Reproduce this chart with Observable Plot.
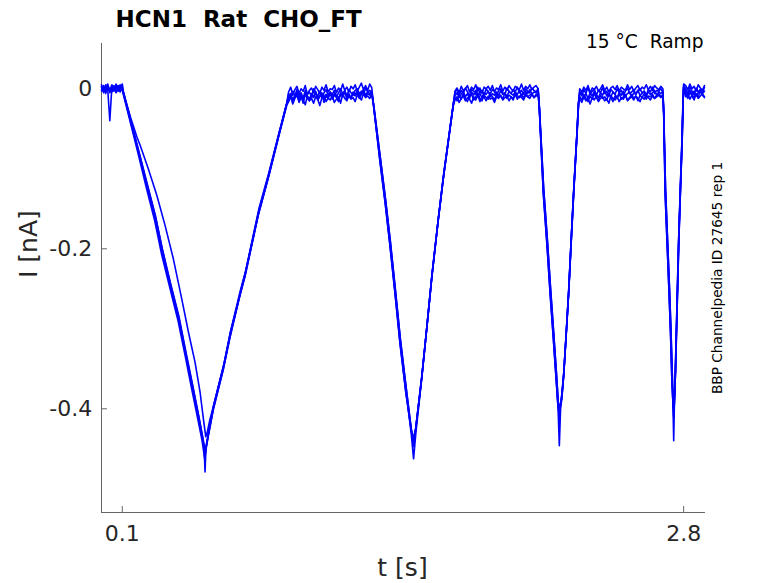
<!DOCTYPE html>
<html><head><meta charset="utf-8">
<script src="https://cdn.jsdelivr.net/npm/d3@7"></script>
<script src="https://cdn.jsdelivr.net/npm/@observablehq/plot@0.6"></script>
<style>
body{margin:0;background:#fff}
svg text{white-space:pre}
</style>
</head><body><div id="chart"></div>
<script>
// ---- axes ----
const xTicks = [0.1, 2.8];
const yTicks = [0, -0.2, -0.4];
const xDomain = [0, 2.905];
const yDomain = [-0.5296, 0.0566];

// ---- holding plateaus: first sample time (s), sampled every sampleStep ----
const sampleStep = 0.01;
const plateauStarts = [0, 0.90, 1.70, 2.30, 2.81];

// holding current samples (pA), one row per plateau
const sweep1Plateaus = [
  [2,-3,5,-1,-40,3,-2,6,0,-4,3],
  [-4,2,-8,-1,3,-6,0,-3,4,-7,-2,1,-5,3,-1,-6,2,-2,5,-4,0,-1,4,-5,1,-3,6,-2,2,-4,3,0,5,-3,2,7,-1,4,-2,6,1],
  [-3,1,-5,3,-2,0,4,-4,2,-1,5,-3,1,-6,2,0,3,-2,4,-4,1,-1,5,-3,2,-2,4,0,-3,3,1,-1,6,-2,3,0,5,-1,2,4,0],
  [0,-4,2,-2,4,-5,1,-1,3,-3,0,5,-2,2,-4,1,3,-1,4,-3,2,0,-2,5,-1,3,-3,1,4,-2,2,0,5,-1,3,-2,4,1,-1,3,0],
  [4,-1,6,0,3,-3,5,1,-2,4]
];
const sweep2Plateaus = [
  [-1,4,-4,2,-2,5,-3,1,4,-2,0],
  [-12,-6,-14,-8,-4,-11,-7,-15,-5,-9,-13,-6,-10,-3,-12,-8,-5,-14,-7,-10,-4,-11,-6,-9,-13,-5,-8,-2,-10,-6,-12,-4,-7,-3,-9,-5,-1,-8,-4,-6,-3],
  [-9,-5,-11,-7,-3,-10,-6,-12,-4,-8,-2,-9,-6,-11,-5,-7,-3,-10,-6,-8,-4,-9,-2,-7,-5,-10,-3,-6,-8,-4,-7,-2,-9,-5,-3,-6,-1,-7,-4,-5,-2],
  [-8,-4,-10,-6,-12,-5,-9,-3,-7,-11,-5,-8,-2,-9,-6,-10,-4,-7,-11,-5,-8,-3,-9,-6,-4,-10,-5,-7,-2,-8,-6,-3,-9,-4,-7,-5,-2,-8,-4,-6,-3],
  [-4,-8,-2,-7,-3,-9,-5,-1,-6,-3]
];
const sweep3Plateaus = [
  [3,-5,1,6,-3,0,4,-4,2,5,-1],
  [-16,-10,-19,-12,-8,-17,-11,-14,-20,-9,-15,-12,-18,-10,-13,-21,-11,-8,-16,-12,-14,-9,-17,-13,-10,-18,-7,-12,-15,-9,-13,-11,-16,-8,-10,-14,-6,-11,-9,-12,-7],
  [-14,-10,-17,-12,-9,-15,-11,-13,-18,-10,-14,-8,-16,-12,-10,-15,-9,-13,-11,-17,-10,-12,-8,-14,-11,-9,-15,-10,-12,-7,-13,-9,-11,-14,-8,-10,-12,-7,-11,-9,-8],
  [-13,-17,-10,-15,-12,-19,-11,-14,-9,-16,-12,-10,-15,-13,-18,-9,-12,-14,-10,-16,-11,-13,-8,-15,-12,-10,-14,-9,-12,-16,-10,-13,-8,-11,-14,-9,-12,-10,-8,-11,-9],
  [-10,-6,-13,-8,-11,-7,-12,-9,-6,-10]
];
const sweep4Plateaus = [
  [5,-2,0,4,-5,2,-1,3,-3,1,6],
  [-6,-11,-3,-9,-1,-8,-5,-12,-2,-7,-4,-10,0,-6,-9,-3,-11,-5,-1,-8,-4,-7,-2,-10,-5,0,-6,-3,-9,-1,-5,-8,-2,0,-6,-3,-7,1,-4,-2,-5],
  [-5,0,-8,-2,-6,1,-4,-9,-1,-3,-7,2,-5,-2,-8,0,-4,-6,-1,-3,-9,-2,0,-5,-7,1,-3,-6,-1,-4,2,-5,-2,-7,0,-3,-5,1,-2,-4,0],
  [-4,-9,-1,-6,2,-7,-3,0,-8,-2,-5,1,-6,-3,-9,-1,-4,-7,0,-5,-2,-8,-3,1,-6,-4,-1,-7,-2,0,-5,-3,-8,-1,-4,2,-6,-2,-3,0,-4],
  [0,-5,2,-3,-8,1,-4,-1,-6,2]
];
const sweep5Plateaus = [
  [-3,1,-6,3,-1,-4,2,-5,0,3,-2],
  [-13,-8,-16,-10,-6,-14,-9,-18,-7,-12,-15,-9,-11,-5,-14,-10,-7,-17,-9,-12,-6,-13,-8,-11,-16,-7,-10,-4,-13,-8,-11,-6,-9,-5,-12,-7,-3,-10,-6,-8,-5],
  [-11,-15,-8,-13,-6,-12,-16,-9,-7,-14,-10,-5,-12,-15,-8,-11,-13,-6,-10,-14,-7,-11,-9,-13,-5,-12,-8,-10,-14,-6,-9,-11,-7,-12,-5,-10,-8,-6,-11,-7,-6],
  [-10,-14,-7,-12,-16,-9,-13,-6,-11,-15,-8,-12,-10,-14,-7,-11,-16,-9,-12,-6,-13,-10,-8,-14,-11,-7,-12,-9,-15,-8,-11,-6,-13,-9,-10,-7,-12,-8,-6,-10,-7],
  [-7,-12,-4,-9,-14,-6,-10,-3,-8,-11]
];

// ramp responses [t (s), I (nA)], one list per ramp
const sweep1Ramps = [
  [[0.105,-0.006],[0.137,-0.038],[0.177,-0.079],[0.2175,-0.121],[0.2575,-0.162],[0.290,-0.204],[0.330,-0.246],[0.370,-0.288],[0.402,-0.329],[0.434,-0.371],[0.466,-0.412],[0.485,-0.438],[0.494,-0.452],[0.498,-0.479],[0.502,-0.452],[0.514,-0.433],[0.538,-0.400],[0.586,-0.350],[0.618,-0.310],[0.667,-0.256],[0.691,-0.233],[0.755,-0.156],[0.803,-0.110],[0.851,-0.060],[0.891,-0.018]],
  [[1.31,-0.025],[1.340,-0.088],[1.365,-0.140],[1.388,-0.193],[1.412,-0.252],[1.437,-0.317],[1.465,-0.378],[1.490,-0.432],[1.501,-0.4625],[1.512,-0.430],[1.541,-0.360],[1.565,-0.298],[1.589,-0.235],[1.620,-0.163],[1.645,-0.110],[1.672,-0.058],[1.692,-0.020]],
  [[2.105,-0.020],[2.126,-0.129],[2.143,-0.190],[2.159,-0.254],[2.173,-0.305],[2.187,-0.358],[2.196,-0.400],[2.202,-0.446],[2.208,-0.400],[2.215,-0.385],[2.223,-0.358],[2.235,-0.307],[2.247,-0.254],[2.259,-0.190],[2.271,-0.129],[2.286,-0.060],[2.295,-0.015]],
  [[2.704,-0.030],[2.712,-0.129],[2.722,-0.195],[2.731,-0.254],[2.738,-0.305],[2.744,-0.358],[2.749,-0.400],[2.752,-0.440],[2.755,-0.400],[2.760,-0.358],[2.768,-0.275],[2.776,-0.192],[2.784,-0.128],[2.792,-0.067],[2.797,-0.020],[2.800,0.006]]
];
const sweep2Ramps = [
  [[0.105,-0.004],[0.140,-0.040],[0.180,-0.080],[0.222,-0.122],[0.262,-0.163],[0.295,-0.203],[0.334,-0.247],[0.373,-0.287],[0.405,-0.330],[0.437,-0.370],[0.468,-0.410],[0.487,-0.437],[0.499,-0.458],[0.506,-0.442],[0.516,-0.427],[0.540,-0.395],[0.588,-0.345],[0.620,-0.304],[0.668,-0.252],[0.693,-0.228],[0.757,-0.150],[0.805,-0.105],[0.853,-0.056],[0.893,-0.016]],
  [[1.31,-0.022],[1.341,-0.086],[1.366,-0.138],[1.389,-0.190],[1.413,-0.250],[1.438,-0.314],[1.466,-0.375],[1.491,-0.428],[1.500,-0.447],[1.510,-0.428],[1.542,-0.356],[1.566,-0.295],[1.590,-0.231],[1.621,-0.160],[1.646,-0.106],[1.673,-0.055],[1.693,-0.017]],
  [[2.105,-0.018],[2.127,-0.126],[2.144,-0.187],[2.160,-0.250],[2.174,-0.302],[2.188,-0.355],[2.197,-0.392],[2.201,-0.414],[2.206,-0.398],[2.214,-0.382],[2.224,-0.354],[2.236,-0.303],[2.248,-0.250],[2.260,-0.187],[2.272,-0.126],[2.287,-0.057],[2.296,-0.012]],
  [[2.704,-0.028],[2.713,-0.126],[2.723,-0.192],[2.732,-0.250],[2.739,-0.302],[2.745,-0.355],[2.750,-0.395],[2.752,-0.410],[2.755,-0.393],[2.761,-0.352],[2.769,-0.270],[2.777,-0.188],[2.785,-0.124],[2.793,-0.063],[2.797,-0.018],[2.800,0.004]]
];
const sweep3Ramps = [
  [[0.105,-0.005],[0.140,-0.036],[0.170,-0.060],[0.185,-0.070],[0.225,-0.100],[0.266,-0.133],[0.306,-0.171],[0.3455,-0.2125],[0.386,-0.2625],[0.418,-0.304],[0.450,-0.342],[0.474,-0.379],[0.490,-0.4125],[0.5015,-0.435],[0.508,-0.430],[0.520,-0.415],[0.545,-0.390],[0.590,-0.343],[0.622,-0.302],[0.670,-0.254],[0.695,-0.226],[0.758,-0.153],[0.806,-0.107],[0.853,-0.058],[0.892,-0.020]],
  [[1.31,-0.024],[1.339,-0.090],[1.364,-0.142],[1.387,-0.195],[1.411,-0.254],[1.436,-0.319],[1.464,-0.380],[1.489,-0.425],[1.499,-0.438],[1.511,-0.425],[1.540,-0.362],[1.564,-0.300],[1.588,-0.237],[1.619,-0.165],[1.644,-0.112],[1.671,-0.060],[1.691,-0.022]],
  [[2.105,-0.021],[2.125,-0.131],[2.142,-0.193],[2.158,-0.257],[2.172,-0.308],[2.186,-0.361],[2.195,-0.394],[2.200,-0.403],[2.205,-0.396],[2.213,-0.388],[2.222,-0.361],[2.234,-0.310],[2.246,-0.257],[2.258,-0.193],[2.270,-0.132],[2.285,-0.063],[2.294,-0.018]],
  [[2.704,-0.031],[2.711,-0.132],[2.721,-0.198],[2.730,-0.257],[2.737,-0.308],[2.743,-0.361],[2.748,-0.390],[2.751,-0.400],[2.754,-0.392],[2.759,-0.362],[2.767,-0.278],[2.775,-0.195],[2.783,-0.131],[2.791,-0.070],[2.796,-0.023],[2.800,0.002]]
];
const sweep4Ramp1 = [[0.105,-0.003],[0.138,-0.036],[0.178,-0.076],[0.219,-0.118],[0.259,-0.158],[0.292,-0.200],[0.332,-0.243],[0.372,-0.284],[0.404,-0.326],[0.436,-0.367],[0.467,-0.408],[0.486,-0.434],[0.497,-0.450],[0.504,-0.446],[0.515,-0.430],[0.539,-0.397],[0.587,-0.347],[0.619,-0.307],[0.668,-0.254],[0.692,-0.230],[0.756,-0.153],[0.804,-0.107],[0.852,-0.057],[0.892,-0.017]];
const sweep5Ramp1 = [[0.105,-0.007],[0.136,-0.039],[0.176,-0.081],[0.216,-0.124],[0.256,-0.165],[0.289,-0.207],[0.329,-0.249],[0.369,-0.291],[0.401,-0.332],[0.433,-0.374],[0.465,-0.415],[0.484,-0.440],[0.496,-0.462],[0.503,-0.448],[0.513,-0.435],[0.537,-0.402],[0.585,-0.352],[0.617,-0.312],[0.666,-0.258],[0.690,-0.235],[0.754,-0.158],[0.802,-0.112],[0.850,-0.062],[0.890,-0.020]];
// sweeps 4 and 5 follow sweeps 2 and 3 on the shorter ramps
const sweep4Ramps = [sweep4Ramp1, sweep2Ramps[1], sweep2Ramps[2], sweep2Ramps[3]];
const sweep5Ramps = [sweep5Ramp1, sweep3Ramps[1], sweep3Ramps[2], sweep3Ramps[3]];

// ---- texts ----
const titleText = "HCN1  Rat  CHO_FT";
const conditionText = "15 °C  Ramp";
const sourceText = "BBP Channelpedia ID 27645 rep 1";
const xLabel = "t [s]";
const yLabel = "I [nA]";

// ---- build the table ----
const sweeps = [
  {plateaus: sweep1Plateaus, ramps: sweep1Ramps},
  {plateaus: sweep2Plateaus, ramps: sweep2Ramps},
  {plateaus: sweep3Plateaus, ramps: sweep3Ramps},
  {plateaus: sweep4Plateaus, ramps: sweep4Ramps},
  {plateaus: sweep5Plateaus, ramps: sweep5Ramps}
];
const rows = [];
sweeps.forEach((sw, s) => {
  plateauStarts.forEach((t0, k) => {
    sw.plateaus[k].forEach((v, i) => rows.push({sweep: s, t: +(t0 + i * sampleStep).toFixed(3), I: v / 1000}));
    if (k < sw.ramps.length) sw.ramps[k].forEach(([t, I]) => rows.push({sweep: s, t, I}));
  });
});

const font = "DejaVu Sans";
const chart = Plot.plot({
  width: 778,
  height: 583,
  marginLeft: 101,
  marginRight: 73,
  marginTop: 43,
  marginBottom: 71,
  style: {fontFamily: font, background: "#fff", overflow: "visible"},
  x: {domain: xDomain},
  y: {domain: yDomain},
  marks: [
    Plot.ruleX([xDomain[0]], {stroke: "#666", strokeWidth: 1}),
    Plot.ruleY([yDomain[0]], {stroke: "#666", strokeWidth: 1}),
    Plot.axisX({ticks: xTicks, tickFormat: d => String(d), tickSize: -6, tickPadding: 19, fontSize: 22, color: "#262626", stroke: "#666", label: null}),
    Plot.axisY({ticks: yTicks, tickFormat: d => String(d), tickSize: -6, tickPadding: 15.3, fontSize: 22, color: "#262626", stroke: "#666", label: null}),
    Plot.line(rows, {x: "t", y: "I", z: "sweep", stroke: "#0000ff", strokeWidth: 1.6, strokeLinejoin: "round"}),
    Plot.text([xLabel], {text: d => d, frameAnchor: "bottom", dx: -1, dy: 63, lineAnchor: "bottom", fontSize: 25, fill: "#262626"}),
    Plot.text([yLabel], {text: d => d, frameAnchor: "left", dx: -72.7, rotate: -90, lineAnchor: "middle", fontSize: 25, fill: "#262626"}),
    Plot.text([titleText], {text: d => d, frameAnchor: "top-left", dx: 14, dy: -16.3, textAnchor: "start", lineAnchor: "bottom", fontSize: 23, fontWeight: "bold", fill: "#000"}),
    Plot.text([conditionText], {text: d => d, frameAnchor: "top-right", dx: -2, dy: 4.3, textAnchor: "end", lineAnchor: "bottom", fontSize: 18.6, fill: "#000"}),
    Plot.text([sourceText], {text: d => d, frameAnchor: "right", dx: 16.7, rotate: -90, textAnchor: "middle", lineAnchor: "bottom", fontSize: 13.7, fill: "#000"})
  ]
});
document.getElementById("chart").appendChild(chart);
</script>
</body></html>
